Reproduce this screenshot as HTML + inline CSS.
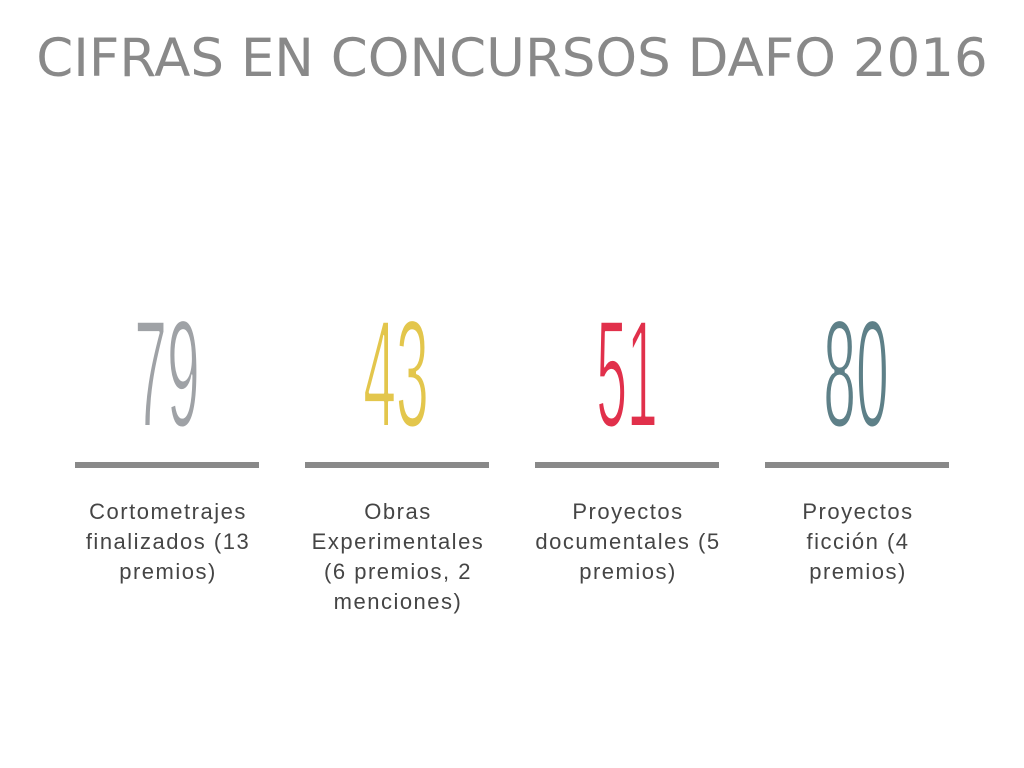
<!DOCTYPE html>
<html>
<head>
<meta charset="utf-8">
<style>
html,body{margin:0;padding:0;background:#fff;}
body{width:1024px;height:768px;overflow:hidden;}
svg{display:block;}
.lab{font-family:"Liberation Sans",sans-serif;font-size:22px;letter-spacing:1.5px;fill:#454545;}
</style>
</head>
<body>
<svg width="1024" height="768" viewBox="0 0 1024 768" xmlns="http://www.w3.org/2000/svg">
<rect width="1024" height="768" fill="#fff"/>
<text x="512" y="76" text-anchor="middle" font-family="DejaVu Sans, sans-serif" font-size="53" fill="#898989">CIFRAS EN CONCURSOS DAFO 2016</text>

<g font-family="Liberation Sans, sans-serif" font-size="153" stroke="#fff" stroke-width="3" stroke-linejoin="round" text-anchor="middle">
<text transform="translate(167,426.5) scale(0.385,1)" x="0" y="0" fill="#9fa2a6">79</text>
<text transform="translate(396,426.5) scale(0.385,1)" x="0" y="0" fill="#e3c64c">43</text>
<text transform="translate(627,426.5) scale(0.36,1)" x="0" y="0" fill="#e1304b">51</text>
<text transform="translate(856,426.5) scale(0.385,1)" x="0" y="0" fill="#5e8088">80</text>
</g>

<rect x="75" y="462" width="184" height="6" fill="#898989"/>
<rect x="305" y="462" width="184" height="6" fill="#898989"/>
<rect x="535" y="462" width="184" height="6" fill="#898989"/>
<rect x="765" y="462" width="184" height="6" fill="#898989"/>

<g class="lab" text-anchor="middle">
<text x="168" y="519">Cortometrajes</text>
<text x="168" y="549">finalizados (13</text>
<text x="168" y="579">premios)</text>

<text x="398" y="519">Obras</text>
<text x="398" y="549">Experimentales</text>
<text x="398" y="579">(6 premios, 2</text>
<text x="398" y="609">menciones)</text>

<text x="628" y="519">Proyectos</text>
<text x="628" y="549">documentales (5</text>
<text x="628" y="579">premios)</text>

<text x="858" y="519">Proyectos</text>
<text x="858" y="549">ficción (4</text>
<text x="858" y="579">premios)</text>
</g>
</svg>
</body>
</html>
